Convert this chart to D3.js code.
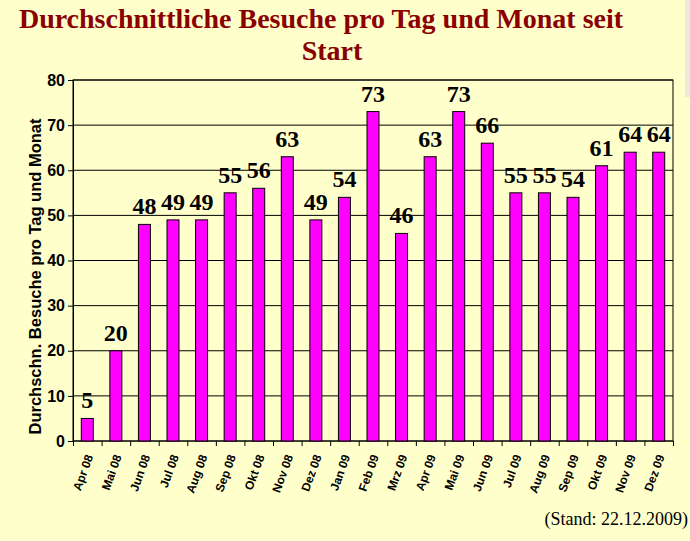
<!DOCTYPE html>
<html>
<head>
<meta charset="utf-8">
<script src="https://cdn.jsdelivr.net/npm/d3@7"></script>
<style>
  body { margin: 0; background: #ffffcc; }
  svg { display: block; }
</style>
</head>
<body>
<div id="chart"></div>
<script>
const months = ['Apr 08', 'Mai 08', 'Jun 08', 'Jul 08', 'Aug 08', 'Sep 08', 'Okt 08', 'Nov 08', 'Dez 08',
    'Jan 09', 'Feb 09', 'Mrz 09', 'Apr 09', 'Mai 09', 'Jun 09', 'Jul 09', 'Aug 09', 'Sep 09', 'Okt 09', 'Nov 09', 'Dez 09'];
const visits = [5, 20, 48, 49, 49, 55, 56, 63, 49, 54, 73, 46, 63, 73, 66, 55, 55, 54, 61, 64, 64];
const yTicks = [0, 10, 20, 30, 40, 50, 60, 70, 80];

const width = 690, height = 541;
const margin = {top: 80, right: 17, bottom: 100, left: 73};

let svg = d3.select('#chart')
    .append("svg")
    .attr("width", width)
    .attr("height", height);

svg.append("rect")
    .attr("width", width)
    .attr("height", height)
    .attr("fill", "#ffffcc");

// faint strip at the top right edge
svg.append("rect")
    .attr("x", 685)
    .attr("y", 0)
    .attr("width", 5)
    .attr("height", 97)
    .attr("fill", "#ebebdc");

let x = d3.scaleBand()
    .domain(months)
    .range([margin.left, width - margin.right])
    .paddingInner(0.58)
    .paddingOuter(0.29);

let y = d3.scaleLinear()
    .domain([0, 80])
    .range([height - margin.bottom, margin.top]);

// title
svg.append("text")
    .attr("text-anchor", "middle")
    .attr("font-family", "Liberation Serif, Times New Roman, serif")
    .attr("font-weight", "bold")
    .attr("font-size", 28)
    .attr("fill", "#8b0000")
    .selectAll("tspan")
    .data(["Durchschnittliche Besuche pro Tag und Monat seit", "Start"])
    .join("tspan")
    .attr("x", (d, i) => i ? 332 : 321)
    .attr("y", (d, i) => 28 + i * 32)
    .text(d => d);

// gridlines
svg.append("g")
    .selectAll("line")
    .data(yTicks)
    .join("line")
    .attr("x1", margin.left)
    .attr("x2", width - margin.right)
    .attr("y1", d => y(d))
    .attr("y2", d => y(d))
    .attr("stroke", "black")
    .attr("stroke-width", 1);

// plot frame
svg.append("rect")
    .attr("x", margin.left)
    .attr("y", margin.top)
    .attr("width", width - margin.left - margin.right)
    .attr("height", height - margin.top - margin.bottom)
    .attr("fill", "none")
    .attr("stroke", "black");

// y axis
let yAxis = svg.append("g")
    .attr("transform", `translate(${margin.left},0)`)
    .call(d3.axisLeft(y).tickValues(yTicks).tickSize(5).tickPadding(3));
yAxis.select(".domain").attr("stroke", "black");
yAxis.selectAll("text")
    .attr("font-family", "Liberation Sans, Arial, sans-serif")
    .attr("font-weight", "bold")
    .attr("font-size", 16)
    .attr("fill", "black");

// x axis ticks between categories
let xAxis = svg.append("g")
    .attr("transform", `translate(0,${height - margin.bottom})`)
    .call(d3.axisBottom(d3.scalePoint().domain(d3.range(months.length + 1))
        .range([margin.left, width - margin.right])).tickSize(5).tickFormat(""));
xAxis.select(".domain").remove();

svg.append("g")
    .selectAll("text")
    .data(months)
    .join("text")
    .attr("transform", d => `translate(${x(d) + x.bandwidth() / 2 + 2},${height - margin.bottom + 14}) rotate(-70)`)
    .attr("text-anchor", "end")
    .attr("dy", "0.35em")
    .attr("font-family", "Liberation Sans, Arial, sans-serif")
    .attr("font-weight", "bold")
    .attr("font-size", 12)
    .text(d => d);

// y axis title
svg.append("text")
    .attr("transform", `translate(35,${y(40) + 16}) rotate(-90)`)
    .attr("text-anchor", "middle")
    .attr("dy", "0.35em")
    .attr("font-family", "Liberation Sans, Arial, sans-serif")
    .attr("font-weight", "bold")
    .attr("font-size", 16.5)
    .text("Durchschn. Besuche pro Tag und Monat");

// bars
svg.append("g")
    .selectAll("rect")
    .data(visits)
    .join("rect")
    .attr("x", (d, i) => x(months[i]))
    .attr("y", d => y(d))
    .attr("width", x.bandwidth())
    .attr("height", d => y(0) - y(d))
    .attr("fill", "#ff00ff")
    .attr("stroke", "black")
    .attr("stroke-width", 1);

// value labels
svg.append("g")
    .selectAll("text")
    .data(visits)
    .join("text")
    .attr("x", (d, i) => x(months[i]) + x.bandwidth() / 2)
    .attr("y", d => y(d) - 10)
    .attr("text-anchor", "middle")
    .attr("font-family", "Liberation Serif, Times New Roman, serif")
    .attr("font-weight", "bold")
    .attr("font-size", 24)
    .text(d => d);

// footnote
svg.append("text")
    .attr("x", 688)
    .attr("y", 525)
    .attr("text-anchor", "end")
    .attr("font-family", "Liberation Serif, Times New Roman, serif")
    .attr("font-size", 18)
    .text("(Stand: 22.12.2009)");
</script>
</body>
</html>
